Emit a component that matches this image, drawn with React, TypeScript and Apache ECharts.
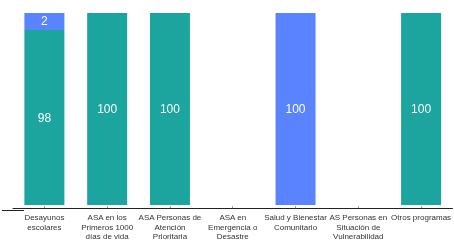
import React, { useEffect, useRef } from "react";
import * as echarts from "echarts";

const categories = [
  "Desayunos\nescolares",
  "ASA en los\nPrimeros 1000\ndías de vida",
  "ASA Personas de\nAtención\nPrioritaria",
  "ASA en\nEmergencia o\nDesastre",
  "Salud y Bienestar\nComunitario",
  "AS Personas en\nSituación de\nVulnerabilidad",
  "Otros programas",
];
const tealValues: (number | null)[] = [98, 100, 100, null, null, null, 100];
const blueValues: (number | null)[] = [2, null, null, null, 100, null, null];

// visual minimum segment height (percent of axis) used by the original chart for tiny segments
const MIN_SEGMENT = 8.8;

export default function App() {
  const ref = useRef<HTMLDivElement>(null);
  useEffect(() => {
    if (!ref.current) return;
    const chart = echarts.init(ref.current, undefined, { renderer: "svg" });
    const bluePlot = blueValues.map((v) => (v == null ? null : Math.max(v, MIN_SEGMENT)));
    const tealPlot = tealValues.map((v, i) => {
      if (v == null) return null;
      const b = blueValues[i];
      if (b == null) return v;
      return v - (Math.max(b, MIN_SEGMENT) - b);
    });
    const labelCommon = {
      show: true,
      position: "inside" as const,
      color: "#ffffff",
      fontSize: 12,
      fontFamily: "Liberation Sans, Arial, sans-serif",
    };
    chart.setOption({
      animation: false,
      grid: { left: 13, right: 0, top: 13, bottom: 34, containLabel: false },
      xAxis: {
        type: "category",
        data: categories,
        offset: 3,
        axisLine: { show: true, onZero: false, lineStyle: { color: "#222", width: 1 } },
        axisTick: { show: true, inside: true, length: 2, alignWithLabel: true, lineStyle: { color: "#999" } },
        axisLabel: {
          interval: 0,
          color: "#333",
          fontSize: 8,
          lineHeight: 9.3,
          margin: 5,
          fontFamily: "Liberation Sans, Arial, sans-serif",
        },
      },
      yAxis: { type: "value", min: 0, max: 100, show: false, splitLine: { show: false } },
      graphic: [
        {
          type: "line",
          shape: { x1: 2, y1: 210.5, x2: 24, y2: 210.5 },
          style: { stroke: "#222", lineWidth: 1 },
          z: -1,
        },
      ],
      series: [
        {
          type: "bar",
          stack: "total",
          barWidth: 40,
          data: tealPlot,
          itemStyle: { color: "#1CA49E" },
          label: { ...labelCommon, formatter: (p: any) => String(tealValues[p.dataIndex]) },
        },
        {
          type: "bar",
          stack: "total",
          barWidth: 40,
          data: bluePlot,
          itemStyle: { color: "#5A83FF" },
          label: { ...labelCommon, formatter: (p: any) => String(blueValues[p.dataIndex]) },
        },
      ],
    });
    return () => chart.dispose();
  }, []);
  return <div ref={ref} style={{ position: "fixed", left: 0, top: 0, width: 454, height: 241 }} />;
}
